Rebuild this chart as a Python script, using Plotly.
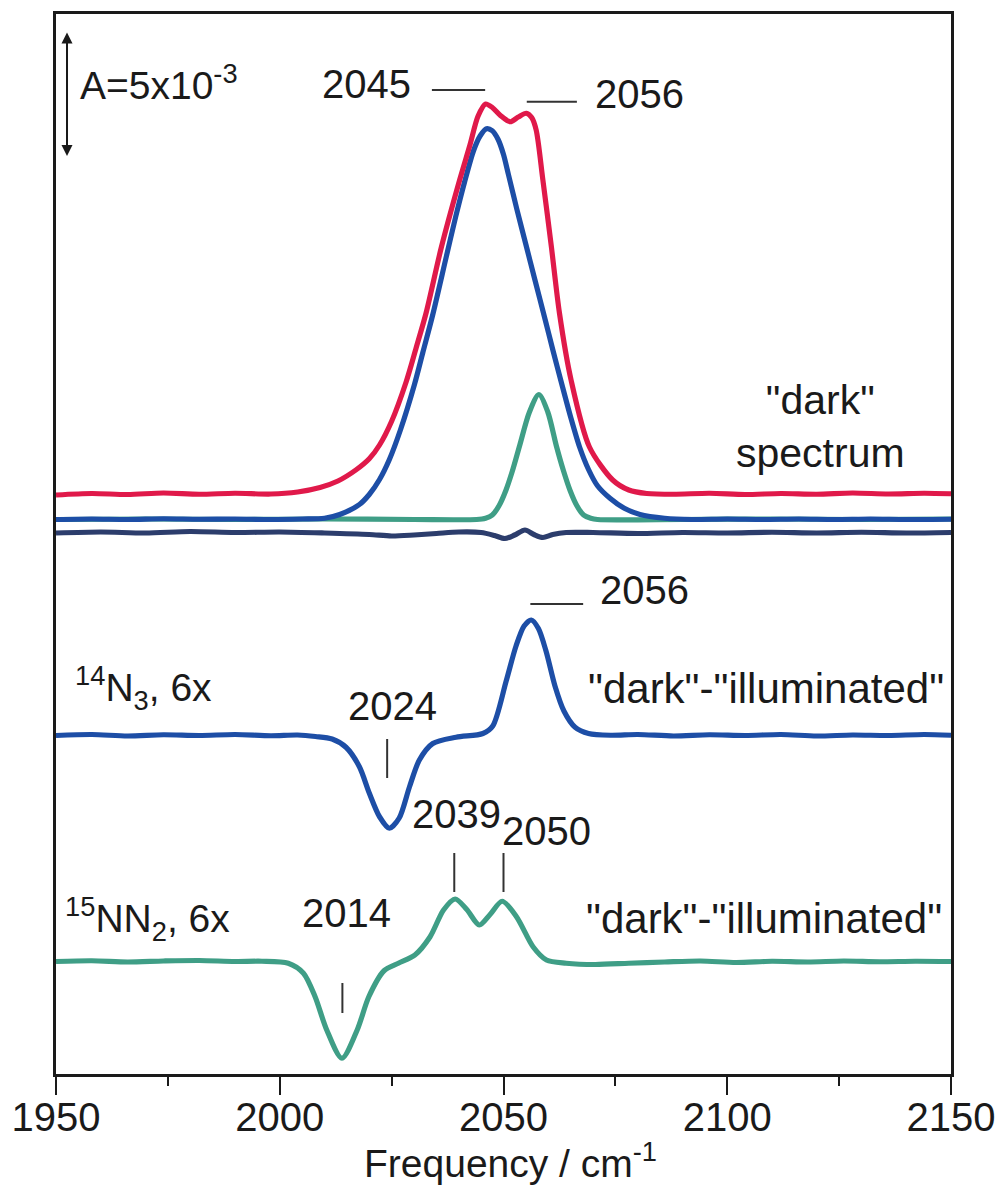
import plotly.graph_objects as go

# ---------------------------------------------------------------------------
# Spectra (absorbance in units of 1e-3), frequency in cm^-1
# ---------------------------------------------------------------------------

# "dark" spectrum, total band (red)
dark_total_freq = [1950, 1958, 1966, 1974, 1982, 1990, 1998, 2004, 2009, 2013, 2017, 2020,
                   2022.3, 2025, 2028.2, 2030.5, 2032.7, 2036.1, 2040.2, 2042.5, 2044.3,
                   2046.0, 2047.5, 2049.2, 2051.5, 2053.3, 2055.1, 2056.3, 2057.3, 2058.8,
                   2060.7, 2062.5, 2065.1, 2069.2, 2074.4, 2078, 2082, 2088, 2096, 2104,
                   2112, 2120, 2128, 2136, 2144, 2150]
dark_total_abs = [0.0, 0.06, 0.02, 0.08, 0.03, 0.07, 0.04, 0.12, 0.3, 0.56, 1.0, 1.45,
                  2.0, 2.95, 4.5, 5.9, 7.28, 9.9, 12.6, 14.0, 15.15,
                  15.64, 15.5, 15.2, 14.93, 15.12, 15.27, 15.1, 14.6, 12.6,
                  9.93, 7.28, 4.6, 1.92, 0.6, 0.2, 0.06, 0.03, 0.07, 0.02,
                  0.06, 0.03, 0.08, 0.04, 0.07, 0.05]

# "dark" spectrum, 2045 component (blue)
dark_2045_freq = [1950, 1958, 1966, 1974, 1982, 1990, 1998, 2005, 2010, 2013.4, 2017.8,
                  2020, 2022.3, 2024.5, 2027, 2030.1, 2032, 2034.2, 2037.2, 2039.3, 2041.3,
                  2043.3, 2044.8, 2046.2, 2047.5, 2048.8, 2050, 2051.1, 2053, 2055.0, 2057,
                  2059.3, 2061, 2062.9, 2065, 2067.0, 2069, 2071.0, 2073.8, 2077, 2080.5,
                  2086, 2092, 2100, 2108, 2116, 2124, 2132, 2140, 2150]
dark_2045_abs = [0.0, 0.02, 0.0, 0.03, 0.01, 0.02, 0.0, 0.02, 0.05, 0.2, 0.6,
                 1.0, 1.6, 2.4, 3.6, 5.4, 6.7, 8.2, 10.5, 12.1, 13.5,
                 14.75, 15.35, 15.63, 15.55, 15.2, 14.6, 13.8, 12.4, 11.0, 9.6,
                 8.0, 6.8, 5.5, 4.1, 2.9, 2.0, 1.35, 0.85, 0.45, 0.2,
                 0.05, 0.0, 0.02, 0.0, 0.02, 0.0, 0.02, 0.0, 0.01]

# "dark" spectrum, 2056 component (green)
dark_2056_freq = [1950, 1970, 1990, 2010, 2030, 2044, 2046, 2047.5, 2049, 2050.5, 2052,
                  2053.6, 2055.8, 2057.9, 2059.9, 2061.8, 2063.4, 2064.9, 2066.4, 2067.9,
                  2069.5, 2071, 2090, 2110, 2130, 2150]
dark_2056_abs = [0.0, 0.02, 0.0, 0.02, 0.0, 0.0, 0.05, 0.18, 0.55, 1.15, 1.95,
                 2.95, 4.3, 5.0, 4.3, 2.95, 1.95, 1.15, 0.55, 0.18,
                 0.05, 0.0, 0.0, 0.02, 0.0, 0.02]

# residual (navy)
residual_freq = [1950, 1960, 1970, 1980, 1990, 2000, 2010, 2020, 2025, 2030, 2035, 2040,
                 2045, 2048, 2050.3, 2052.5, 2054.8, 2056.8, 2058.8, 2061, 2064, 2070,
                 2080, 2090, 2100, 2110, 2120, 2130, 2140, 2150]
residual_abs = [0.0, 0.04, 0.0, 0.06, 0.02, 0.04, 0.0, -0.06, -0.12, -0.08, -0.02, 0.04,
                0.02, -0.1, -0.22, -0.08, 0.12, -0.06, -0.18, -0.06, 0.02, 0.02,
                -0.02, 0.02, 0.0, 0.03, 0.0, 0.03, 0.0, 0.02]

# 14N3 "dark"-"illuminated", 6x (blue)
diff14_freq = [1950, 1958, 1966, 1974, 1982, 1990, 1998, 2004, 2008, 2011.7, 2014.8,
               2017.8, 2020.0, 2022.3, 2024.5, 2026.7, 2029.0, 2031.2, 2034.2, 2039.4,
               2045.4, 2047.6, 2050.6, 2052.8, 2054.6, 2056.2, 2057.8, 2059.5, 2061.5,
               2063.5, 2066, 2069, 2074, 2080, 2088, 2096, 2104, 2112, 2120, 2128, 2136,
               2144, 2150]
diff14_abs = [0.02, 0.06, 0.0, 0.05, 0.02, 0.06, 0.01, 0.04, -0.02, -0.12, -0.45,
              -1.23, -2.28, -3.23, -3.69, -3.28, -2.03, -0.96, -0.3, -0.05,
              0.1, 0.4, 2.2, 3.6, 4.4, 4.64, 4.3, 3.4, 2.0,
              1.0, 0.35, 0.1, 0.03, 0.06, 0.0, 0.05, 0.02, 0.06, 0.0, 0.04, 0.02,
              0.06, 0.03]

# 15NN2 "dark"-"illuminated", 6x (green)
diff15_freq = [1950, 1958, 1966, 1974, 1982, 1990, 1996, 2001.9, 2005.3, 2007.9, 2010.5,
               2013.9, 2017.3, 2019.9, 2023.3, 2026.5, 2030.2, 2033.6, 2036.6, 2039.2,
               2041.8, 2044.6, 2047.0, 2049.7, 2052.9, 2056.6, 2059.6, 2064, 2070.5,
               2078, 2086, 2094, 2102, 2110, 2118, 2126, 2134, 2142, 2150]
diff15_abs = [0.02, 0.05, 0.0, 0.04, 0.06, 0.02, 0.03, -0.05, -0.45, -1.39, -2.72,
              -3.85, -2.72, -1.39, -0.35, -0.05, 0.28, 1.01, 2.08, 2.52,
              2.1, 1.48, 1.9, 2.43, 1.81, 0.61, 0.08, -0.05, -0.1,
              -0.05, 0.0, 0.04, -0.02, 0.03, 0.0, 0.04, 0.01, 0.03, 0.02]

# band positions that are labelled
band_labels_dark = [2045, 2056]
band_label_14 = [2024, 2056]
band_labels_15 = [2014, 2039, 2050]

x_ticks = [1950, 2000, 2050, 2100, 2150]
scale_bar_abs = 5.0  # 5x10^-3

# ---------------------------------------------------------------------------
# Layout constants
# ---------------------------------------------------------------------------
off_total = 23.16
off_comp = 22.18
off_resid = 21.64
off_14 = 13.52
off_15 = 4.48

RED = "#e0194a"
BLUE = "#1d4ea6"
GREEN = "#3f9e86"
NAVY = "#2c3d6c"
INK = "#1a1a1a"
FONT = "Liberation Sans, Arial, sans-serif"
LW = 5.2


def shifted(values, offset):
    return [v + offset for v in values]


fig = go.Figure()


def add_trace(xs, ys, offset, color):
    fig.add_trace(go.Scatter(
        x=xs, y=shifted(ys, offset), mode="lines",
        line=dict(color=color, width=LW, shape="spline", smoothing=0.8),
        showlegend=False, hoverinfo="skip"))


add_trace(residual_freq, residual_abs, off_resid, NAVY)
add_trace(dark_2056_freq, dark_2056_abs, off_comp, GREEN)
add_trace(dark_2045_freq, dark_2045_abs, off_comp, BLUE)
add_trace(dark_total_freq, dark_total_abs, off_total, RED)
add_trace(diff14_freq, diff14_abs, off_14, BLUE)
add_trace(diff15_freq, diff15_abs, off_15, GREEN)

annotations = []
shapes = []


def text(x, y, s, size=40, xanchor="center", yanchor="middle", align="center"):
    annotations.append(dict(x=x, y=y, xref="x", yref="y", text=s, showarrow=False,
                            xanchor=xanchor, yanchor=yanchor, align=align,
                            font=dict(family=FONT, size=size, color=INK)))


def seg(x0, y0, x1, y1):
    shapes.append(dict(type="line", xref="x", yref="y", x0=x0, y0=y0, x1=x1, y1=y1,
                       line=dict(color="#333333", width=2)))


# absorbance scale bar
bar_x = 1952.46
bar_y0 = 36.66
annotations.append(dict(x=bar_x, y=bar_y0 + scale_bar_abs, ax=bar_x, ay=bar_y0,
                        xref="x", yref="y", axref="x", ayref="y", text="",
                        showarrow=True, arrowhead=2, arrowsize=1.1, arrowwidth=2,
                        arrowside="end+start", arrowcolor=INK))
text(1954.9, 39.65, "A=5x10<sup>-3</sup>", size=39, xanchor="left")

# dark spectrum labels
text(2019.3, 39.62, str(band_labels_dark[0]))
seg(2034.0, 39.36, band_labels_dark[0] + 0.9, 39.36)
text(2070.0, 39.22, str(band_labels_dark[1]), xanchor="left")
seg(band_labels_dark[1] - 0.8, 38.89, 2066.4, 38.89)
text(2120.9, 25.9, '"dark"<br>spectrum', size=41)

# 14N3 difference labels
text(1953.8, 15.45, "<sup>14</sup>N<sub>3</sub>, 6x", size=39, xanchor="left")
text(2025.3, 14.72, str(band_label_14[0]))
seg(band_label_14[0], 13.4, band_label_14[0], 11.84)
text(2071.1, 19.36, str(band_label_14[1]), xanchor="left")
seg(band_label_14[1], 18.8, 2067.8, 18.8)
text(2108.6, 15.44, '"dark"-"illuminated"', size=42)

# 15NN2 difference labels
text(1951.6, 6.2, "<sup>15</sup>NN<sub>2</sub>, 6x", size=39, xanchor="left")
text(2015.0, 6.45, str(band_labels_15[0]))
seg(band_labels_15[0], 3.64, band_labels_15[0], 2.44)
text(2039.4, 10.4, str(band_labels_15[1]))
seg(band_labels_15[1], 8.84, band_labels_15[1], 7.28)
text(2059.5, 9.72, str(band_labels_15[2]))
seg(band_labels_15[2], 8.84, band_labels_15[2], 7.28)
text(2108.2, 6.24, '"dark"-"illuminated"', size=42)

# axis title
annotations.append(dict(x=0.508, y=-0.0815, xref="paper", yref="paper",
                        text="Frequency / cm<sup>-1</sup>", showarrow=False,
                        xanchor="center", yanchor="middle",
                        font=dict(family=FONT, size=39, color=INK)))

fig.update_layout(
    width=998, height=1188,
    margin=dict(l=56, r=47, t=14, b=114),
    paper_bgcolor="white", plot_bgcolor="white",
    font=dict(family=FONT, size=40, color=INK),
    annotations=annotations, shapes=shapes,
    showlegend=False,
)
fig.update_xaxes(
    range=[1950, 2150], tickvals=x_ticks, ticktext=[str(t) for t in x_ticks],
    ticks="outside", ticklen=18, tickwidth=2, tickcolor=INK,
    minor=dict(dtick=25, tick0=1950, ticks="outside", ticklen=9, tickwidth=2, tickcolor=INK),
    showline=True, linewidth=2.5, linecolor=INK, mirror=True,
    showgrid=False, zeroline=False, automargin=False,
    ticklabelstandoff=-12,
    tickfont=dict(family=FONT, size=40, color=INK),
)
fig.update_yaxes(
    range=[0, 42.4], showticklabels=False, ticks="",
    showline=True, linewidth=2.5, linecolor=INK, mirror=True,
    showgrid=False, zeroline=False, automargin=False,
)

fig.write_html("out.html")
